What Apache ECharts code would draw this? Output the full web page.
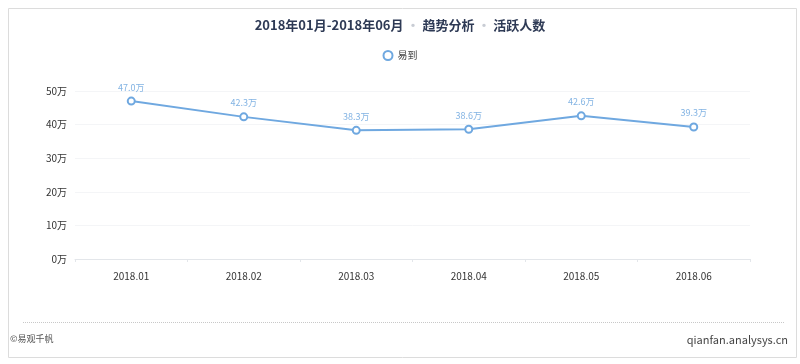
<!DOCTYPE html>
<html><head><meta charset="utf-8">
<script src="https://cdn.jsdelivr.net/npm/echarts@6/dist/echarts.min.js"></script>
<style>html,body{margin:0;padding:0;background:#fff}#c{width:800px;height:364px}</style>
</head><body><div id="c"></div>
<script>
const categories = ['2018.01','2018.02','2018.03','2018.04','2018.05','2018.06'];
const values = [47.0, 42.3, 38.3, 38.6, 42.6, 39.3];
const seriesName = '易到';
const yTicks = [0,10,20,30,40,50];
const chart = echarts.init(document.getElementById('c'));
const font = '"Microsoft YaHei","Noto Sans CJK SC",sans-serif';
chart.setOption({
  backgroundColor:'#fff',
  textStyle:{fontFamily:font},
  title:{
    text:'{a|2018年01月-2018年06月}{d| · }{a|趋势分析}{d| · }{a|活跃人数}',
    left:'center', top:14,
    textStyle:{rich:{a:{fontSize:13,fontWeight:'bold',color:'#2e3a55',fontFamily:font},d:{fontSize:13,color:'#c8ccd4',fontFamily:font}}}
  },
  legend:{top:45,left:'center',itemWidth:9,itemHeight:9,itemGap:4,
    data:[{name:seriesName,icon:'emptyCircle'}],
    textStyle:{fontSize:10,color:'#444'}},
  grid:{left:75,right:50,top:91,bottom:105,containLabel:false},
  xAxis:{type:'category',data:categories,boundaryGap:true,
    axisLine:{lineStyle:{color:'#e3e6ea'}},
    axisTick:{show:true,alignWithLabel:false,length:3,lineStyle:{color:'#e3e6ea'}},
    axisLabel:{color:'#333',fontSize:10,margin:12}},
  yAxis:{type:'value',min:0,max:50,interval:10,
    axisLine:{show:false},axisTick:{show:false},
    axisLabel:{color:'#333',fontSize:10,margin:8,formatter:v=>v+'万'},
    splitLine:{lineStyle:{color:'#f4f5f7'}}},
  series:[{name:seriesName,type:'line',data:values,
    symbol:'emptyCircle',symbolSize:7,
    lineStyle:{color:'#6fa8e0',width:2},
    itemStyle:{color:'#6fa8e0',borderWidth:1.5},
    label:{show:true,position:'top',distance:5,fontSize:9,color:'#82b3e3',formatter:p=>p.value.toFixed(1)+'万'}
  }],
  graphic:[
    {type:'rect',shape:{x:8.5,y:8.5,width:788,height:349},style:{fill:'none',stroke:'#dcdcdc',lineWidth:1},silent:true,z:-1},
    {type:'line',shape:{x1:23,y1:322.5,x2:785,y2:322.5},style:{stroke:'#c8c8c8',lineWidth:1,lineDash:[1,1]}},
    {type:'text',left:10,top:334,style:{text:'©易观千帆',fontSize:9,fill:'#555',fontFamily:font}},
    {type:'text',right:12,top:334,style:{text:'qianfan.analysys.cn',fontSize:11,fill:'#444',fontFamily:font}}
  ]
});
</script></body></html>
